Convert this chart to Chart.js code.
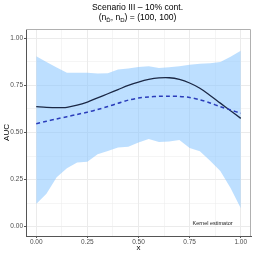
<!DOCTYPE html>
<html>
<head>
<meta charset="utf-8">
<script src="https://cdn.jsdelivr.net/npm/chart.js@4"></script>
<style>
    html, body { margin: 0; padding: 0; background: #fff; }
    canvas { display: block; }
</style>
</head>
<body>
<canvas id="auc-chart" width="254" height="254"></canvas>
<script>
// values, x grid every 0.05
const xValues = [0, 0.05, 0.1, 0.15, 0.2, 0.25, 0.3, 0.35, 0.4, 0.45, 0.5,
    0.55, 0.6, 0.65, 0.7, 0.75, 0.8, 0.85, 0.9, 0.95, 1];
const trueAuc = [0.638, 0.634, 0.632, 0.634, 0.645, 0.662, 0.684, 0.706, 0.728, 0.750, 0.768,
    0.782, 0.790, 0.791, 0.782, 0.763, 0.735, 0.697, 0.656, 0.616, 0.575];
const meanEstimate = [0.547, 0.560, 0.572, 0.584, 0.596, 0.608, 0.622, 0.638, 0.655, 0.672, 0.683,
    0.689, 0.692, 0.693, 0.692, 0.686, 0.674, 0.657, 0.637, 0.620, 0.602];
const bandLower = [0.120, 0.175, 0.262, 0.310, 0.341, 0.345, 0.385, 0.402, 0.420, 0.424, 0.447,
    0.465, 0.450, 0.452, 0.460, 0.418, 0.400, 0.350, 0.295, 0.205, 0.097];
const bandUpper = [0.905, 0.875, 0.845, 0.818, 0.818, 0.818, 0.814, 0.815, 0.835, 0.840, 0.848,
    0.852, 0.843, 0.847, 0.852, 0.860, 0.866, 0.868, 0.875, 0.902, 0.935];

const majorTicks = [0, 0.25, 0.5, 0.75, 1];
const minorTicks = [0.125, 0.375, 0.625, 0.875];
const tickLabels = ['0.00', '0.25', '0.50', '0.75', '1.00'];

const titleText = 'Scenario III \u2013 10% cont.';
const annotationText = 'Kernel estimator';
const annotationAt = { x: 0.862, y: 0.017 };

const FONT = '"Liberation Sans", Arial, sans-serif';

const toPoints = ys => xValues.map((x, i) => ({ x: x, y: ys[i] }));
const isMajor = v => majorTicks.some(m => Math.abs(m - v) < 1e-9);

function setTicks(scale) {
    scale.ticks = majorTicks.concat(minorTicks).sort((a, b) => a - b).map(v => ({ value: v }));
}
function tickLabel(value) {
    const i = majorTicks.findIndex(m => Math.abs(m - value) < 1e-9);
    return i >= 0 ? tickLabels[i] : '';
}

const gridOpts = {
    color: '#ebebeb',
    lineWidth: ctx => (ctx.tick && isMajor(ctx.tick.value)) ? 1 : 0.5,
    tickColor: ctx => (ctx.tick && isMajor(ctx.tick.value)) ? '#555555' : 'rgba(0,0,0,0)',
    tickLength: 2,
    drawTicks: true
};

// title with subscripts, panel border and the text label
const decorations = {
    id: 'decorations',
    afterDraw(chart) {
        const ctx = chart.ctx;
        const area = chart.chartArea;
        const cx = 137.5;

        ctx.save();
        ctx.strokeStyle = '#b0b0b0';
        ctx.lineWidth = 1;
        ctx.beginPath();
        ctx.moveTo(area.left, area.top + 0.5);
        ctx.lineTo(area.right - 0.5, area.top + 0.5);
        ctx.lineTo(area.right - 0.5, area.bottom);
        ctx.stroke();

        ctx.fillStyle = '#000';
        ctx.textBaseline = 'alphabetic';
        ctx.textAlign = 'center';
        ctx.font = '8.6px ' + FONT;
        ctx.fillText(titleText, cx, 10);

        const main = '8.6px ' + FONT;
        const sub = '6px ' + FONT;
        const parts = [
            { t: '(n', f: main, dy: 0 },
            { t: 'D\u0304', f: sub, dy: 2 },
            { t: ', n', f: main, dy: 0 },
            { t: 'D', f: sub, dy: 2 },
            { t: ') = (100, 100)', f: main, dy: 0 }
        ];
        let total = 0;
        parts.forEach(p => { ctx.font = p.f; p.w = ctx.measureText(p.t).width; total += p.w; });
        let x = cx - total / 2;
        ctx.textAlign = 'left';
        parts.forEach(p => {
            ctx.font = p.f;
            ctx.fillText(p.t, x, 20 + p.dy);
            x += p.w;
        });

        const xs = chart.scales.x, ys = chart.scales.y;
        ctx.font = '5.5px ' + FONT;
        ctx.textAlign = 'center';
        ctx.textBaseline = 'middle';
        ctx.fillStyle = '#1a1a1a';
        ctx.fillText(annotationText, xs.getPixelForValue(annotationAt.x), ys.getPixelForValue(annotationAt.y));
        ctx.restore();
    }
};

new Chart(document.getElementById('auc-chart'), {
    type: 'line',
    data: {
        datasets: [
            {
                label: 'lower',
                data: toPoints(bandLower),
                borderWidth: 0,
                pointRadius: 0,
                fill: false,
                tension: 0,
                order: 3
            },
            {
                label: 'upper',
                data: toPoints(bandUpper),
                borderWidth: 0,
                pointRadius: 0,
                backgroundColor: 'rgba(135, 196, 255, 0.55)',
                fill: 0,
                tension: 0,
                order: 2
            },
            {
                label: 'AUC',
                data: toPoints(trueAuc),
                borderColor: '#1b2845',
                borderWidth: 1.3,
                pointRadius: 0,
                fill: false,
                tension: 0.3,
                order: 1
            },
            {
                label: 'estimate',
                data: toPoints(meanEstimate),
                borderColor: '#2b3dbb',
                borderWidth: 1.5,
                borderDash: [4, 3],
                pointRadius: 0,
                fill: false,
                tension: 0.3,
                order: 0
            }
        ]
    },
    options: {
        responsive: false,
        animation: false,
        devicePixelRatio: 1,
        layout: { padding: { top: 29, right: 3, left: 0, bottom: 0 } },
        plugins: {
            legend: { display: false },
            tooltip: { enabled: false },
            title: { display: false }
        },
        scales: {
            x: {
                type: 'linear',
                min: -0.05,
                max: 1.05,
                afterBuildTicks: setTicks,
                afterFit: scale => { scale.height = 18; },
                ticks: {
                    autoSkip: false,
                    maxRotation: 0,
                    padding: 0,
                    color: '#4d4d4d',
                    font: { family: FONT, size: 6.5 },
                    callback: tickLabel
                },
                grid: gridOpts,
                border: { display: true, color: '#555555', width: 1 },
                title: {
                    display: true,
                    text: 'x',
                    color: '#000',
                    font: { family: FONT, size: 8 },
                    padding: { top: 0, bottom: 1 }
                }
            },
            y: {
                type: 'linear',
                min: -0.05,
                max: 1.05,
                afterBuildTicks: setTicks,
                afterFit: scale => { scale.width = 26; },
                ticks: {
                    autoSkip: false,
                    padding: 1,
                    color: '#4d4d4d',
                    font: { family: FONT, size: 6.5 },
                    callback: tickLabel
                },
                grid: gridOpts,
                border: { display: true, color: '#555555', width: 1 },
                title: {
                    display: true,
                    text: 'AUC',
                    color: '#000',
                    font: { family: FONT, size: 8 },
                    padding: { top: 2, bottom: 0 }
                }
            }
        }
    },
    plugins: [decorations]
});
</script>
</body>
</html>
